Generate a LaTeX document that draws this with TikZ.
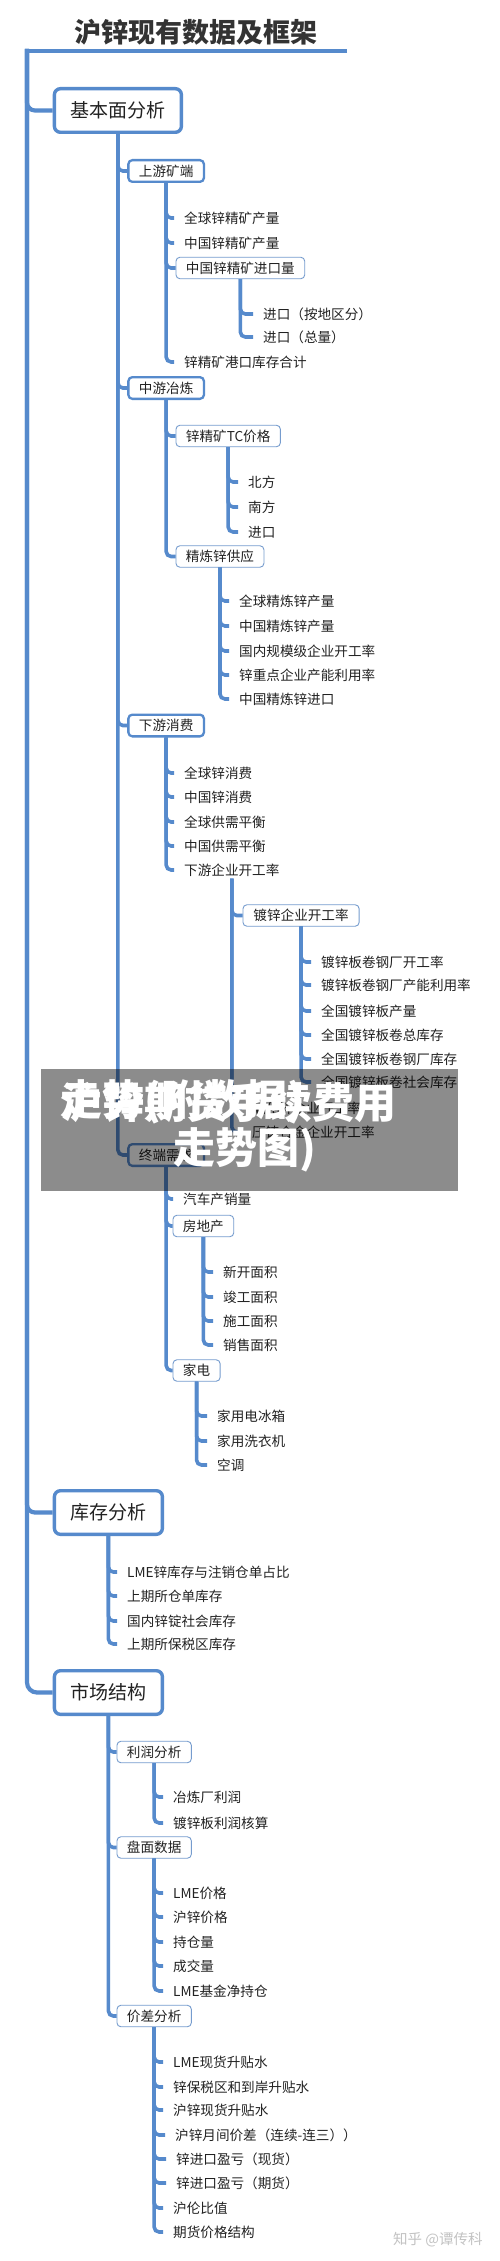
\documentclass[tikz,border=0pt]{standalone}
\usepackage{fontspec}
\setmainfont{Noto Sans CJK SC}
\definecolor{ln}{RGB}{86,138,204}
\definecolor{thinln}{RGB}{118,156,206}
\definecolor{tx}{RGB}{34,34,34}
\definecolor{tt}{RGB}{51,51,51}
\definecolor{wmc}{RGB}{195,195,195}
\tikzset{
  every node/.style={text=tx},
  l0/.style={draw=ln, line width=4.2pt},
  conn/.style={draw=ln, line width=3.6pt, rounded corners=5pt},
  l1box/.style={draw=ln, line width=3.4pt, rounded corners=6pt, fill=white,
    font=\fontsize{19}{22}\selectfont, anchor=west, inner xsep=16pt, inner ysep=0pt, minimum height=43.6pt},
  l2box/.style={draw=ln, line width=2.3pt, rounded corners=4pt, fill=white,
    font=\fontsize{13.6}{16}\selectfont, anchor=west, inner xsep=10.6pt, inner ysep=0pt, minimum height=21.7pt},
  l3box/.style={draw=thinln, line width=0.9pt, rounded corners=4pt, fill=white,
    font=\fontsize{13.6}{16}\selectfont, anchor=west, inner xsep=10pt, inner ysep=0pt, minimum height=21.5pt},
  item/.style={anchor=west, inner xsep=10pt, inner ysep=2pt, font=\fontsize{13.6}{16}\selectfont},
}
\begin{document}
\begin{tikzpicture}[x=1pt,y=1pt]
\useasboundingbox (0,0) rectangle (500,-2261);
\fill[white] (0,0) rectangle (500,-2261);

% title
\node[font=\fontsize{27}{30}\selectfont\bfseries, text=tt] (title) at (195.5,-32) {沪锌现有数据及框架};
\coordinate (topL) at (27,-51);
\coordinate (topR) at (347,-51);

% level 1
\node[l1box] (jb) at (52.7,-110.5) {基本面分析};
\node[l1box] (kc) at (52.7,-1512.5) {库存分析};
\node[l1box] (sc) at (52.7,-1692.5) {市场结构};

% level 2 under 基本面分析
\node[l2box] (sy) at (127.2,-171) {上游矿端};
\node[l2box] (zy) at (127.2,-388) {中游冶炼};
\node[l2box] (xy) at (127.2,-725.5) {下游消费};
\node[l2box] (zd) at (127.2,-1155) {终端需求};

% 上游矿端
\node[item] (s1) at (174,-218) {全球锌精矿产量};
\node[item] (s2) at (174,-243) {中国锌精矿产量};
\node[l3box] (jkl) at (175.5,-268) {中国锌精矿进口量};
\node[item] (s4) at (174,-362) {锌精矿港口库存合计};
\node[item] (j1) at (253,-314) {进口（按地区分）};
\node[item] (j2) at (253,-337) {进口（总量）};

% 中游冶炼
\node[l3box] (tc) at (175.5,-436) {锌精矿TC价格};
\node[l3box] (jl) at (175.5,-556.5) {精炼锌供应};
\node[item] (t1) at (238,-482) {北方};
\node[item] (t2) at (238,-507) {南方};
\node[item] (t3) at (238,-532) {进口};
\node[item] (r1) at (229,-601) {全球精炼锌产量};
\node[item] (r2) at (229,-626) {中国精炼锌产量};
\node[item] (r3) at (229,-651) {国内规模级企业开工率};
\node[item] (r4) at (229,-675) {锌重点企业产能利用率};
\node[item] (r5) at (229,-699) {中国精炼锌进口};

% 下游消费
\node[item] (x1) at (174,-773) {全球锌消费};
\node[item] (x2) at (174,-797) {中国锌消费};
\node[item] (x3) at (174,-822) {全球供需平衡};
\node[item] (x4) at (174,-846) {中国供需平衡};
\node[item] (xq) at (174,-870) {下游企业开工率};
\node[l3box, inner xsep=10.5pt] (dx) at (242.5,-915.5) {镀锌企业开工率};
\node[item] (q2) at (242,-1108) {氧化锌企业开工率};
\node[item] (q3) at (242,-1132) {压铸合金企业开工率};
\node[item] (d1) at (311,-962) {镀锌板卷钢厂开工率};
\node[item] (d2) at (311,-985) {镀锌板卷钢厂产能利用率};
\node[item] (d3) at (311,-1011) {全国镀锌板产量};
\node[item] (d4) at (311,-1035) {全国镀锌板卷总库存};
\node[item] (d5) at (311,-1059) {全国镀锌板卷钢厂库存};
\node[item] (d6) at (311,-1082) {全国镀锌板卷社会库存};

% 终端需求
\node[item] (z1) at (173,-1199) {汽车产销量};
\node[l3box] (fd) at (172.5,-1226) {房地产};
\node[l3box] (jd) at (172.5,-1370.5) {家电};
\node[item] (f1) at (213,-1272) {新开面积};
\node[item] (f2) at (213,-1297) {竣工面积};
\node[item] (f3) at (213,-1321) {施工面积};
\node[item] (f4) at (213,-1345) {销售面积};
\node[item] (e1) at (207,-1416) {家用电冰箱};
\node[item] (e2) at (207,-1441) {家用洗衣机};
\node[item] (e3) at (207,-1465) {空调};

% 库存分析
\node[item] (k1) at (117,-1572) {LME锌库存与注销仓单占比};
\node[item] (k2) at (117,-1596) {上期所仓单库存};
\node[item] (k3) at (117,-1621) {国内锌锭社会库存};
\node[item] (k4) at (117,-1644) {上期所保税区库存};

% 市场结构
\node[l3box] (lr) at (116.5,-1752) {利润分析};
\node[l3box] (pm) at (116.5,-1847.5) {盘面数据};
\node[l3box] (jc) at (116.5,-2016) {价差分析};
\node[item] (l1) at (163,-1797) {冶炼厂利润};
\node[item] (l2) at (163,-1823) {镀锌板利润核算};
\node[item] (p1) at (163,-1893) {LME价格};
\node[item] (p2) at (163,-1917) {沪锌价格};
\node[item] (p3) at (163,-1942) {持仓量};
\node[item] (p4) at (163,-1966) {成交量};
\node[item] (p5) at (163,-1991) {LME基金净持仓};
\node[item] (c1) at (163,-2062) {LME现货升贴水};
\node[item] (c2) at (163,-2087) {锌保税区和到岸升贴水};
\node[item] (c3) at (163,-2110) {沪锌现货升贴水};
\node[item] (c4) at (165,-2135) {沪锌月间价差（连续-连三））};
\node[item] (c5) at (166,-2159) {锌进口盈亏（现货）};
\node[item] (c6) at (166,-2183) {锌进口盈亏（期货）};
\node[item] (c7) at (163,-2208) {沪伦比值};
\node[item] (c8) at (163,-2232) {期货价格结构};

% watermark
\node[anchor=west, inner sep=0pt, font=\fontsize{14.5}{16}\selectfont, text=wmc] (wm) at (393,-2240) {知乎 @谭传科};

% connectors
\draw[l0] (topR) -- (topL);
\draw[l0, rounded corners=8pt] ([yshift=2pt]topL) |- (jb.west);
\draw[l0, rounded corners=8pt] ([yshift=2pt]topL) |- (kc.west);
\draw[l0, rounded corners=10pt] ([yshift=2pt]topL) |- (sc.west);

\foreach \c in {sy,zy,xy,zd} \draw[conn] (jb.south) |- (\c.west);
\foreach \c in {s1,s2,jkl,s4} \draw[conn] (sy.south) |- (\c.west);
\foreach \c in {j1,j2} \draw[conn] (jkl.south) |- (\c.west);
\foreach \c in {tc,jl} \draw[conn] (zy.south) |- (\c.west);
\foreach \c in {t1,t2,t3} \draw[conn] (tc.south) |- (\c.west);
\foreach \c in {r1,r2,r3,r4,r5} \draw[conn] (jl.south) |- (\c.west);
\foreach \c in {x1,x2,x3,x4,xq} \draw[conn] (xy.south) |- (\c.west);
\foreach \c in {dx,q2,q3} \draw[conn] (xq.south) |- (\c.west);
\foreach \c in {d1,d2,d3,d4,d5,d6} \draw[conn] (dx.south) |- (\c.west);
\foreach \c in {z1,fd,jd} \draw[conn] (zd.south) |- (\c.west);
\foreach \c in {f1,f2,f3,f4} \draw[conn] (fd.south) |- (\c.west);
\foreach \c in {e1,e2,e3} \draw[conn] (jd.south) |- (\c.west);
\foreach \c in {k1,k2,k3,k4} \draw[conn] (kc.south) |- (\c.west);
\foreach \c in {lr,pm,jc} \draw[conn] (sc.south) |- (\c.west);
\foreach \c in {l1,l2} \draw[conn] (lr.south) |- (\c.west);
\foreach \c in {p1,p2,p3,p4,p5} \draw[conn] (pm.south) |- (\c.west);
\foreach \c in {c1,c2,c3,c4,c5,c6,c7,c8} \draw[conn] (jc.south) |- (\c.west);

% overlay banner
\fill[black, opacity=0.45] (41,-1069) rectangle (458,-1191);
\node[anchor=west, inner sep=0pt, text=white, font=\fontsize{42}{46}\selectfont\bfseries] (ov1) at (60,-1102) {沪锌期货手续费用};
\node[anchor=west, inner sep=0pt, text=white, font=\fontsize{42}{46}\selectfont\bfseries] (ov2) at (60,-1102) {走势(附数据)};
\node[anchor=west, inner sep=0pt, text=white, font=\fontsize{42}{46}\selectfont\bfseries] (ov3) at (173,-1150) {走势图)};
\end{tikzpicture}
\end{document}
